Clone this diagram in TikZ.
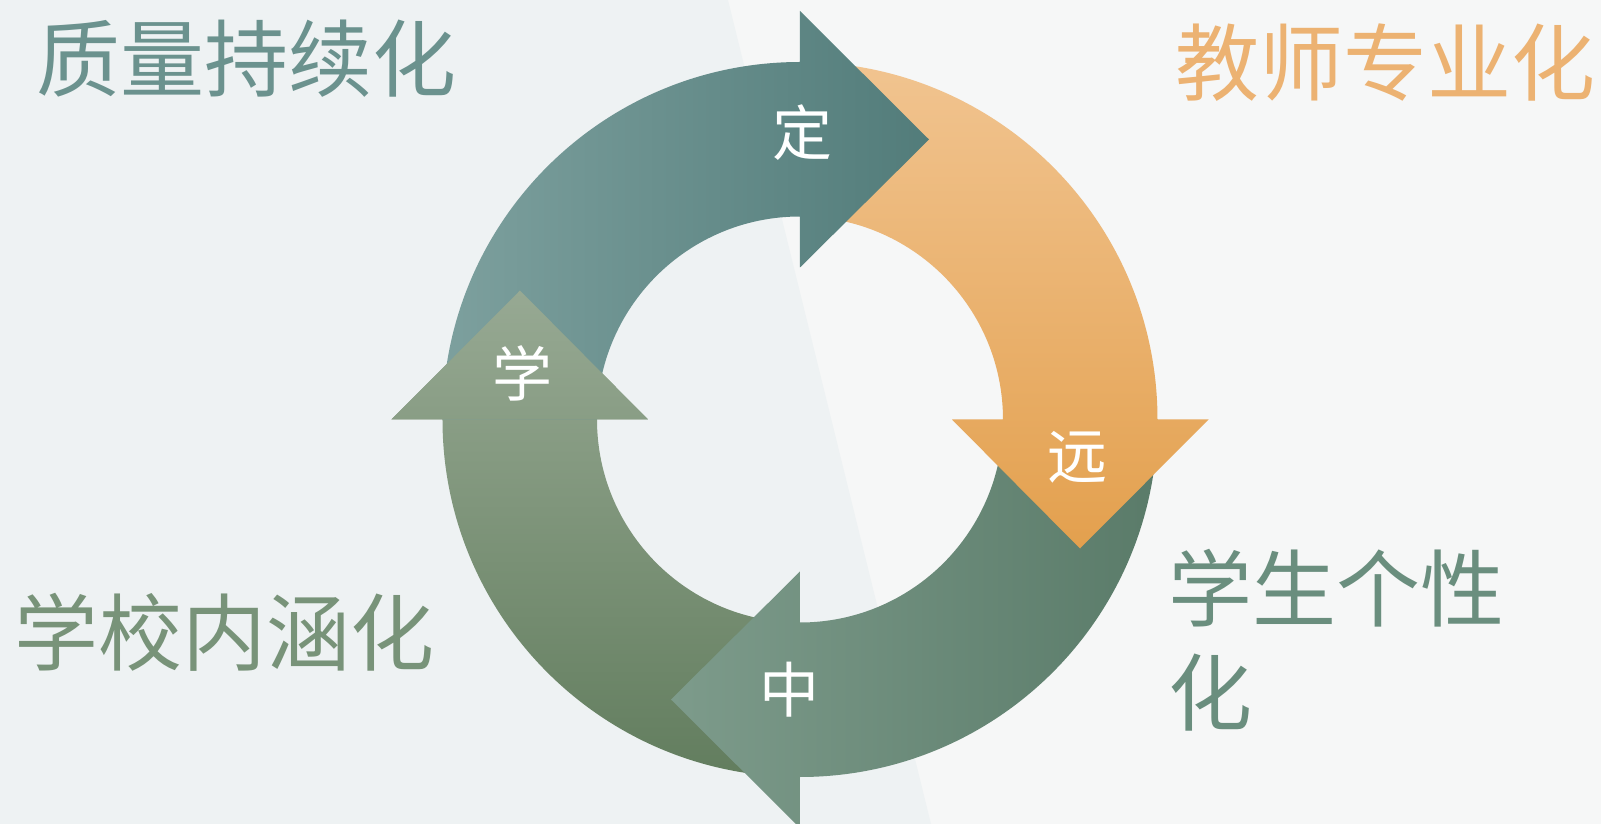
\documentclass[tikz,border=0pt]{standalone}
\usepackage{fontspec}
\newfontfamily\cjk{Noto Sans CJK SC}
\usetikzlibrary{calc}

\definecolor{bgleft}{HTML}{EEF2F3}
\definecolor{bgright}{HTML}{F6F7F7}
\definecolor{tealA}{HTML}{7DA09E}
\definecolor{tealB}{HTML}{527C7A}
\definecolor{orangeA}{HTML}{F1C490}
\definecolor{orangeB}{HTML}{E3A04E}
\definecolor{sageA}{HTML}{7D9B8B}
\definecolor{sageB}{HTML}{5A7B69}
\definecolor{oliveA}{HTML}{97A993}
\definecolor{oliveB}{HTML}{627D5E}
\definecolor{txtteal}{HTML}{6B928E}
\definecolor{txtorange}{HTML}{ECB272}
\definecolor{txtolive}{HTML}{789379}
\definecolor{txtsage}{HTML}{6A8E7E}

% one quarter of the ring with its head, turned by #1
\newcommand\ringarrow[1]{({#1+180}:203) -- ({#1+180}:357.5)
  arc[start angle={#1+180}, delta angle=-90, radius=357.5]
  -- ({#1+90}:408.5) -- ($({#1+90}:280)+(#1:129)$) -- ({#1+90}:152)
  -- ({#1+90}:203) arc[start angle={#1+90}, delta angle=90, radius=203] -- cycle}
\newcommand\ringhead[1]{({#1+90}:408.5) -- ($({#1+90}:280)+(#1:129)$) -- ({#1+90}:152) -- cycle}

\begin{document}
\begin{tikzpicture}[x=1pt,y=1pt,font=\cjk,
  lbl/.style={text=white,inner sep=0pt,font=\cjk\fontsize{60}{60}\selectfont},
  corner/.style={inner sep=0pt,font=\cjk\fontsize{84}{104}\selectfont}]
\useasboundingbox (-800,-404.5) rectangle (801,419.5);
\fill[bgright] (-800,-404.5) rectangle (801,419.5);
\fill[bgleft] (-800,-404.5) -- (-800,419.5) -- (-72,419.5) -- (131,-404.5) -- cycle;

\path[top color=oliveA,bottom color=oliveB] \ringarrow{90};
\path[left color=sageA,right color=sageB] \ringarrow{180};
\path[top color=orangeA,bottom color=orangeB] \ringarrow{-90};
\path[left color=tealA,right color=tealB] \ringarrow{0};
\begin{scope}
\clip \ringhead{90};
\path[top color=oliveA,bottom color=oliveB] \ringarrow{90};
\end{scope}

\node[lbl] (ding) at (3,286.5) {定};
\node[lbl] (yuan) at (277,-37.5) {远};
\node[lbl] (zhong) at (-10,-270.5) {中};
\node[lbl] (xue) at (-277,46.5) {学};

\node[corner,text=txtteal] (quality) at (-553,360.5) {质量持续化};
\node[corner,text=txtorange] (teacher) at (585,356.5) {教师专业化};
\node[corner,text=txtolive] (school) at (-575,-212.5) {学校内涵化};
\node[corner,text=txtsage,align=left,anchor=west] (student) at (368,-220.5) {学生个性\\化};
\end{tikzpicture}
\end{document}
